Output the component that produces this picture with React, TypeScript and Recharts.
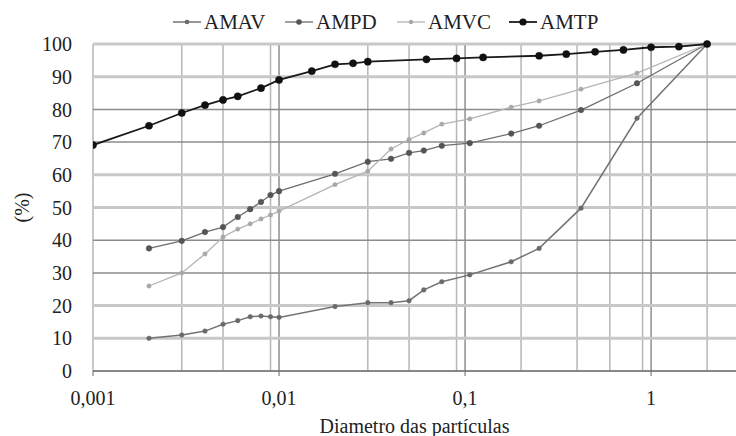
import React from 'react'
import { LineChart, Line, XAxis, YAxis, CartesianGrid, Legend, Label } from 'recharts'

// particle diameters (mm) for AMAV / AMPD / AMVC
const diameters = [0.002, 0.003, 0.004, 0.005, 0.006, 0.007, 0.008, 0.009, 0.01, 0.02, 0.03, 0.04, 0.05, 0.06, 0.075, 0.106, 0.177, 0.25, 0.42, 0.84, 2.0]
const amav = [10, 11, 12.2, 14.3, 15.4, 16.6, 16.8, 16.6, 16.4, 19.7, 20.9, 20.9, 21.5, 24.8, 27.3, 29.4, 33.4, 37.5, 49.8, 77.3, 100]
const ampd = [37.5, 39.8, 42.5, 44, 47.1, 49.5, 51.7, 53.8, 55, 60.3, 64, 64.9, 66.7, 67.4, 68.9, 69.7, 72.6, 75, 79.8, 88, 100]
const amvc = [26, 30, 35.8, 41, 43.4, 45, 46.5, 47.7, 48.9, 57, 61.1, 67.9, 70.8, 72.8, 75.5, 77.1, 80.7, 82.6, 86.2, 91.1, 100]

// AMTP was measured on its own set of diameters
const diametersTP = [0.001, 0.002, 0.003, 0.004, 0.005, 0.006, 0.008, 0.01, 0.015, 0.02, 0.025, 0.03, 0.062, 0.09, 0.125, 0.25, 0.35, 0.5, 0.71, 1.0, 1.41, 2.0]
const amtp = [69.1, 75, 78.9, 81.3, 82.9, 84, 86.5, 89, 91.7, 93.8, 94.1, 94.6, 95.3, 95.6, 95.9, 96.4, 96.9, 97.6, 98.2, 99, 99.2, 100]

const xTicks = [0.001, 0.01, 0.1, 1]
const yTicks = [0, 10, 20, 30, 40, 50, 60, 70, 80, 90, 100]
const minorX = [0.001, 0.002, 0.003, 0.004, 0.005, 0.006, 0.007, 0.008, 0.009, 0.02, 0.03, 0.04, 0.05, 0.06, 0.07, 0.08, 0.09, 0.2, 0.3, 0.4, 0.5, 0.6, 0.7, 0.8, 0.9, 2]
const decadeX = [0.01, 0.1, 1]
const lightY = [10, 20, 50, 60, 90, 100]
const darkY = [0, 30, 40, 70, 80]

const series = [
  { name: 'AMAV', x: diameters, y: amav, color: '#737373', dot: '#6a6a6a', r: 2.3, width: 1.5 },
  { name: 'AMPD', x: diameters, y: ampd, color: '#6d6d6d', dot: '#555555', r: 2.8, width: 1.3 },
  { name: 'AMVC', x: diameters, y: amvc, color: '#b4b4b4', dot: '#a8a8a8', r: 2.2, width: 1.3 },
  { name: 'AMTP', x: diametersTP, y: amtp, color: '#1a1a1a', dot: '#111111', r: 3.6, width: 1.8 },
]

const font = '"Liberation Serif", serif'

const fmt = (v: number) => String(v).replace('.', ',')

function LegendRow() {
  return (
    <div style={{ display: 'flex', height: 44, paddingLeft: 173, alignItems: 'center', fontFamily: font, fontSize: 21, color: '#222' }}>
      {series.map((s) => (
        <div key={s.name} style={{ width: 112, display: 'flex', alignItems: 'center', flex: 'none' }}>
          <svg width={28} height={12}>
            <line x1={0} y1={6} x2={28} y2={6} stroke={s.color} strokeWidth={s.width} />
            <circle cx={14} cy={6} r={s.r} fill={s.dot} />
          </svg>
          <span style={{ marginLeft: 3 }}>{s.name}</span>
        </div>
      ))}
    </div>
  )
}

export default function App() {
  return (
    <div style={{ position: 'absolute', left: 0, top: 0, width: 736, height: 436, background: '#fff' }}>
      <LineChart width={736} height={436} margin={{ top: 0, right: 0, bottom: 0, left: 0 }}>
        <CartesianGrid horizontal={false} verticalValues={minorX} stroke="#b6b6b6" strokeWidth={1.5} />
        <CartesianGrid horizontal={false} verticalValues={decadeX} stroke="#8e8e8e" strokeWidth={1.5} />
        <CartesianGrid vertical={false} horizontalValues={lightY} stroke="#c8c8c8" strokeWidth={3} />
        <CartesianGrid vertical={false} horizontalValues={darkY} stroke="#8c8c8c" strokeWidth={1.5} />
        <XAxis
          dataKey="d"
          type="number"
          scale="log"
          domain={[0.001, 2.86]}
          allowDataOverflow
          ticks={xTicks}
          tickFormatter={fmt}
          tickSize={5}
          tickMargin={15}
          height={65}
          stroke="#666"
          tick={{ fill: '#222', fontSize: 20, fontFamily: font }}
        >
          <Label value="Diametro das partículas" position="insideBottom" offset={3} style={{ fill: '#222', fontSize: 20, fontFamily: font }} />
        </XAxis>
        <YAxis
          type="number"
          domain={[0, 100]}
          ticks={yTicks}
          width={93}
          axisLine={false}
          tickLine={false}
          tickSize={0}
          tickMargin={21}
          tick={{ fill: '#222', fontSize: 20, fontFamily: font }}
        >
          <Label
            content={({ viewBox }: any) => {
              const cx = 22
              const cy = viewBox.y + viewBox.height / 2
              return (
                <text x={cx} y={cy} transform={`rotate(-90, ${cx}, ${cy})`} textAnchor="middle" dominantBaseline="central" fill="#222" fontSize={20} fontFamily={font}>
                  (%)
                </text>
              )
            }}
          />
        </YAxis>
        <Legend verticalAlign="top" align="left" height={44} content={() => <LegendRow />} />
        {series.map((s) => (
          <Line
            key={s.name}
            name={s.name}
            data={s.x.map((d, i) => ({ d, v: s.y[i] }))}
            dataKey="v"
            type="linear"
            stroke={s.color}
            strokeWidth={s.width}
            dot={{ r: s.r, fill: s.dot, stroke: s.dot, strokeWidth: 0.5 }}
            isAnimationActive={false}
          />
        ))}
      </LineChart>
    </div>
  )
}
